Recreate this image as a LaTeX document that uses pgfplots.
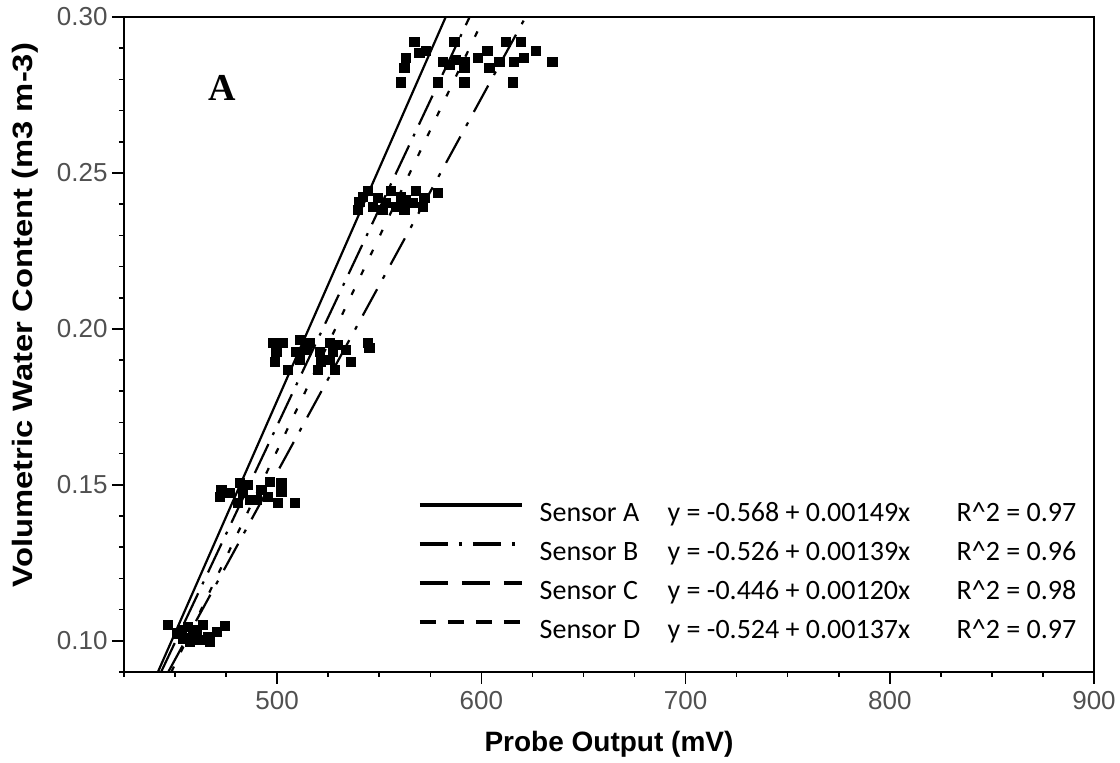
\documentclass[border=0pt]{standalone}
\usepackage{pgfplots}
\pgfplotsset{compat=1.18}
\usepackage{fontspec}
\setmainfont{Liberation Sans}
\newfontfamily\legfont{Carlito}
\newfontfamily\letterfont{Liberation Serif}
\definecolor{tickgray}{HTML}{505050}

% probe readings, one cluster per water content level
\pgfplotstableread{
x y
446.5 0.1051
456.4 0.1045
463.8 0.1051
474.4 0.1048
450.8 0.1024
454.0 0.1008
458.9 0.1019
462.1 0.1003
466.2 0.1013
470.3 0.1029
457.3 0.0997
467.0 0.0997
453.2 0.1035
460.5 0.1035
472.7 0.1484
471.9 0.1462
476.8 0.1473
481.7 0.1505
485.8 0.1500
483.3 0.1473
480.9 0.1441
486.6 0.1451
492.3 0.1484
496.4 0.1510
502.1 0.1505
495.5 0.1462
500.4 0.1441
502.1 0.1478
508.6 0.1441
489.9 0.1451
498.0 0.1956
502.9 0.1956
511.0 0.1964
515.9 0.1956
525.7 0.1956
529.7 0.1948
544.4 0.1956
545.2 0.1938
499.6 0.1927
509.4 0.1927
514.3 0.1932
520.8 0.1927
527.3 0.1927
533.8 0.1932
498.8 0.1895
511.0 0.1900
521.6 0.1895
525.7 0.1900
536.3 0.1895
505.3 0.1868
520.0 0.1868
528.1 0.1868
544.4 0.2443
555.8 0.2443
568.1 0.2443
578.6 0.2435
542.0 0.2424
549.3 0.2419
560.7 0.2424
572.1 0.2419
540.3 0.2408
553.4 0.2403
563.2 0.2413
539.5 0.2381
551.7 0.2381
562.3 0.2381
571.3 0.2392
558.3 0.2392
546.8 0.2392
566.4 0.2403
567.2 0.2920
563.2 0.2870
569.7 0.2885
572.9 0.2890
562.3 0.2836
560.7 0.2790
586.8 0.2920
581.0 0.2856
584.3 0.2846
587.6 0.2862
591.7 0.2856
591.7 0.2836
578.6 0.2790
591.7 0.2790
598.2 0.2869
603.0 0.2890
603.9 0.2836
608.8 0.2856
612.0 0.2920
615.3 0.2790
619.4 0.2920
621.0 0.2869
626.7 0.2890
634.8 0.2856
616.1 0.2856
}\probedata

\begin{document}
\begin{tikzpicture}
\begin{axis}[
  name=ax,
  scale only axis,
  width=485pt, height=327.5pt,
  xmin=425, xmax=900, ymin=0.09, ymax=0.30,
  axis line style={line width=1pt},
  tick align=outside,
  xtick pos=bottom, ytick pos=left,
  xtick={500,600,700,800,900},
  minor xtick={425,450,...,900},
  ytick={0.10,0.15,0.20,0.25,0.30},
  minor ytick={0.09,0.10,0.11,0.12,0.13,0.14,0.15,0.16,0.17,0.18,0.19,0.20,0.21,0.22,0.23,0.24,0.25,0.26,0.27,0.28,0.29,0.30},
  major tick length=6pt, minor tick length=2.5pt,
  tick style={black, line width=0.8pt},
  tick label style={font=\fontsize{13}{15}\selectfont, text=tickgray},
  /pgf/number format/assume math mode=true,
  y tick label style={inner sep=2pt, /pgf/number format/fixed, /pgf/number format/fixed zerofill, /pgf/number format/precision=2},
  xlabel={Probe Output (mV)},
  ylabel={\scalebox{1.17}[1]{Volumetric Water Content (m3 m-3)}},
  label style={font=\bfseries\fontsize{14}{16}\selectfont},
  xlabel style={at={(axis description cs:0.5,-0.11)}, anchor=center},
  ylabel style={at={(axis description cs:-0.102,0.545)}, anchor=center},
  legend image code/.code={\draw[#1] (0pt,4.5pt) -- (51pt,4.5pt);},
  legend cell align=left,
  legend style={draw=none, fill=none, at={(0.303,0.261)}, anchor=north west,
    inner sep=0pt, outer sep=0pt, row sep=6.5pt,
    font=\legfont\fontsize{14}{16}\selectfont,
    nodes={inner sep=0pt, text height=10pt, text depth=3pt},
    /tikz/every odd column/.append style={column sep=8pt}},
]

\addplot[only marks, mark=square*, mark size=2.3pt, black, forget plot] table {\probedata};

% Sensor A
\addplot[black, line width=1.1pt, forget plot] coordinates {(441.61,0.09) (582.55,0.30)};
% Sensor B
\addplot[black, line width=1.1pt, forget plot, dash pattern=on 16pt off 5pt on 1.5pt off 5pt] coordinates {(443.17,0.09) (594.24,0.30)};
% Sensor C
\addplot[black, line width=1.1pt, forget plot, dash pattern=on 15pt off 6pt on 2pt off 6pt] coordinates {(446.67,0.09) (621.67,0.30)};
% Sensor D
\addplot[black, line width=1.1pt, forget plot, dash pattern=on 3pt off 8pt] coordinates {(448.18,0.09) (601.46,0.30)};

\addlegendimage{black, line width=1.9pt}
\addlegendentry{\makebox[64pt][l]{Sensor A}\makebox[144.5pt][l]{y = -0.568 + 0.00149x}R\textasciicircum 2 = 0.97}
\addlegendimage{black, line width=1.9pt, dash pattern=on 14pt off 5.5pt on 1.5pt off 5.5pt}
\addlegendentry{\makebox[64pt][l]{Sensor B}\makebox[144.5pt][l]{y = -0.526 + 0.00139x}R\textasciicircum 2 = 0.96}
\addlegendimage{black, line width=1.9pt, dash pattern=on 14pt off 7pt}
\addlegendentry{\makebox[64pt][l]{Sensor C}\makebox[144.5pt][l]{y = -0.446 + 0.00120x}R\textasciicircum 2 = 0.98}
\addlegendimage{black, line width=1.9pt, dash pattern=on 8pt off 6pt}
\addlegendentry{\makebox[64pt][l]{Sensor D}\makebox[144.5pt][l]{y = -0.524 + 0.00137x}R\textasciicircum 2 = 0.97}

\node[font=\letterfont\bfseries\fontsize{19}{22}\selectfont] at (axis cs:472.9,0.2772) {A};
\end{axis}
\pgfresetboundingbox
\path[use as bounding box] ([shift={(-62pt,-45.5pt)}]ax.south west) rectangle ([shift={(13pt,8.5pt)}]ax.north east);
\end{tikzpicture}
\end{document}
